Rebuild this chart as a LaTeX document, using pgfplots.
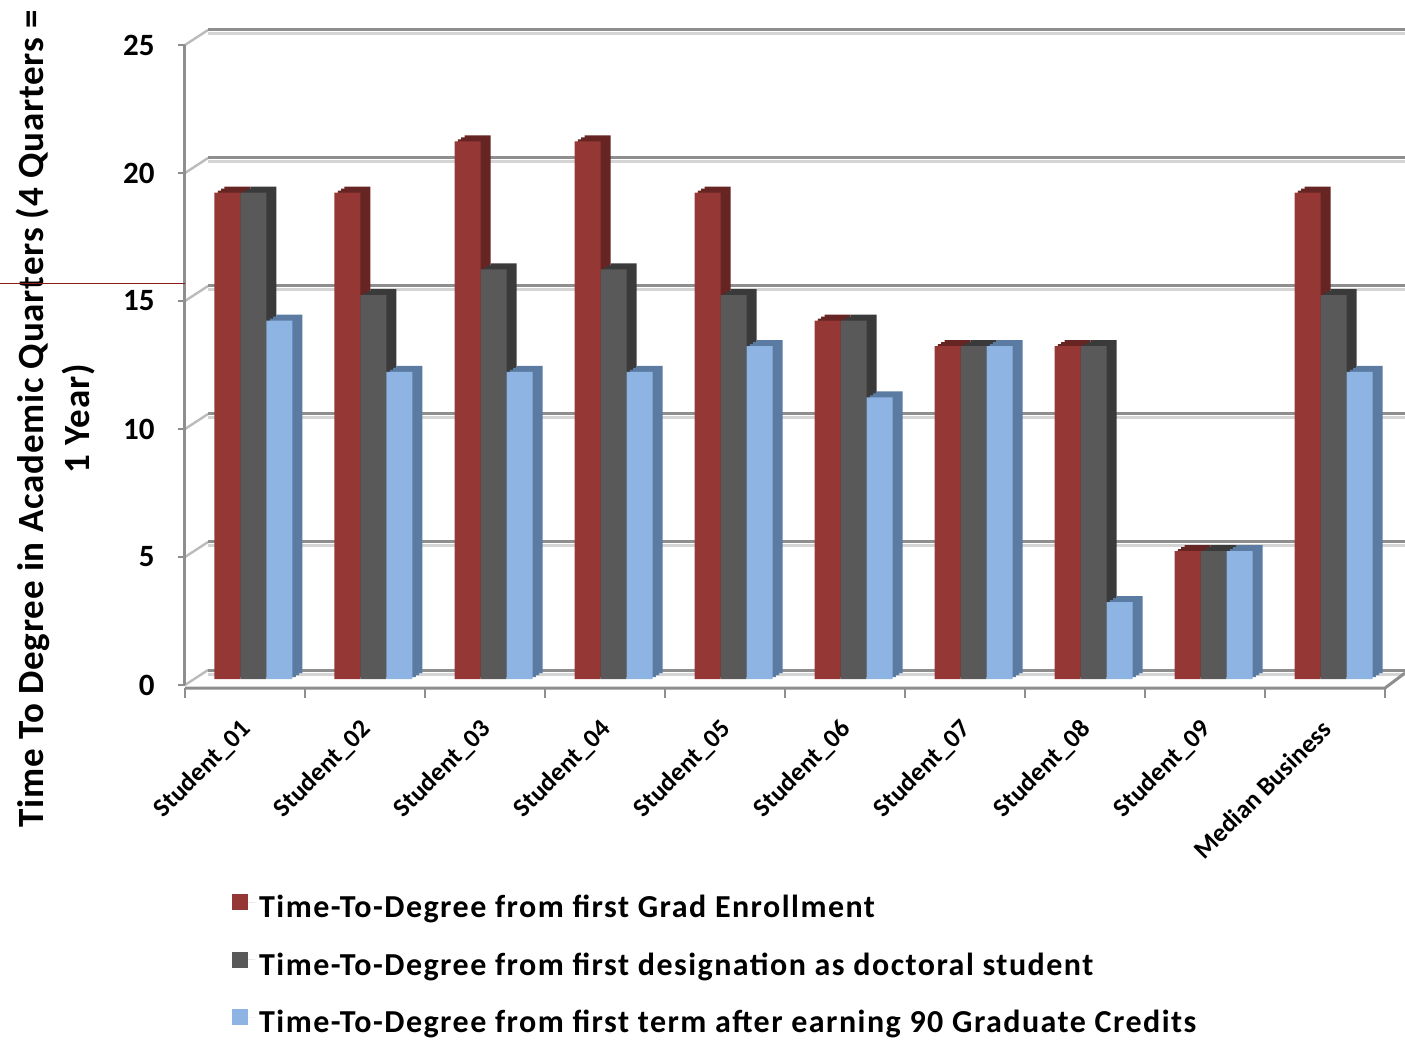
\documentclass[border=0pt]{standalone}
\usepackage{fontspec}
\setmainfont{Carlito}
\newfontfamily\legendfont[LetterSpace=4.6]{Carlito}
\newfontfamily\labelfont[LetterSpace=2.2]{Carlito}
\usepackage{pgfplots}
\pgfplotsset{compat=1.18}
\usepackage{pgfplotstable}

\definecolor{redF}{HTML}{953735}
\definecolor{redS}{HTML}{662523}
\definecolor{greyF}{HTML}{595959}
\definecolor{greyS}{HTML}{3A3A3A}
\definecolor{blueF}{HTML}{8EB4E3}
\definecolor{blueS}{HTML}{5C7BA3}
\definecolor{gridc}{HTML}{8E8E8E}
\definecolor{gridsh}{HTML}{D4D4D4}
\definecolor{edge}{HTML}{8B1A1A}

% time to degree, in academic quarters
\pgfplotstableread{
x a b c
0 19 19 14
1 19 15 12
2 21 16 12
3 21 16 12
4 19 15 13
5 14 14 11
6 13 13 13
7 13 13 3
8 5 5 5
9 19 15 12
}\ttd

\begin{document}
\begin{tikzpicture}
% back wall and floor of the 3-D box
\foreach \v in {0,5,...,25} {
  \draw[gridsh, line width=1.5pt] (11.5pt,{\v*12.8pt+5.5pt}) -- (610pt,{\v*12.8pt+5.5pt});
  \draw[gridc!60, line width=1.2pt] (0pt,{\v*12.8pt}) -- (11.5pt,{\v*12.8pt+7.5pt});
  \draw[gridc, line width=1.5pt] (11.5pt,{\v*12.8pt+7.5pt}) -- (610pt,{\v*12.8pt+7.5pt});
  \draw[gridc, line width=1pt] (-3.5pt,{\v*12.8pt}) -- (0pt,{\v*12.8pt});
}
\draw[gridc, line width=1.5pt] (0pt,0pt) -- (0pt,320pt);
\draw[gridc, line width=1.5pt] (0pt,-1.5pt) -- (600pt,-1.5pt) -- (610pt,6pt);
\foreach \i in {0,...,10} {
  \draw[gridc, line width=1pt] ({\i*60pt},-1.5pt) -- ({\i*60pt},-6.5pt);
}

\begin{axis}[
  scale only axis, width=600pt, height=320pt,
  xmin=-0.5, xmax=9.5, ymin=0, ymax=25,
  axis line style={draw=none},
  major tick length=0pt,
  clip=false,
  ytick={0,5,...,25},
  xtick={0,...,9},
  xticklabels={Student\_01,Student\_02,Student\_03,Student\_04,Student\_05,
    Student\_06,Student\_07,Student\_08,Student\_09,Median Business},
  /pgf/number format/assume math mode=true,
  yticklabel style={font=\bfseries\fontsize{15.5}{18}\selectfont, anchor=east, inner sep=0pt, xshift=-15pt},
  xticklabel style={font=\bfseries\fontsize{13}{15}\selectfont, inner sep=0pt,
    xshift=1pt, yshift=-20pt, rotate=45, anchor=east},
  ylabel={Time To Degree in Academic Quarters (4 Quarters =\\1 Year)},
  ylabel style={align=center,
    font=\labelfont\bfseries\fontsize{18.5}{23}\selectfont,
    at={(axis description cs:-0.108,0.416)}, anchor=center},
  legend style={at={(axis description cs:0.039,-0.322)}, anchor=north west,
    draw=none, fill=none,
    font=\legendfont\bfseries\fontsize{16}{19}\selectfont,
    row sep=12pt, inner sep=0pt, cells={anchor=west}},
  legend image code/.code={\path[#1, draw=none] (0pt,-4pt) rectangle (8pt,4pt);
    \path (0pt,0pt) -- (11.5pt,0pt);},
]
% depth faces of the bars, drawn first so the front faces cover them
\addplot[ybar, bar width=13pt, bar shift=-7.1pt, fill=redS, draw=none, yshift=4pt, forget plot] table[x=x,y=a] {\ttd};
\addplot[ybar, bar width=13pt, bar shift=-5.4pt, fill=redS, draw=none, yshift=5pt, forget plot] table[x=x,y=a] {\ttd};
\addplot[ybar, bar width=13pt, bar shift=-3.75pt, fill=redS, draw=none, yshift=6pt, forget plot] table[x=x,y=a] {\ttd};
\addplot[ybar, bar width=13pt, bar shift=5.9pt, fill=greyS, draw=none, yshift=4pt, forget plot] table[x=x,y=b] {\ttd};
\addplot[ybar, bar width=13pt, bar shift=7.6pt, fill=greyS, draw=none, yshift=5pt, forget plot] table[x=x,y=b] {\ttd};
\addplot[ybar, bar width=13pt, bar shift=9.25pt, fill=greyS, draw=none, yshift=6pt, forget plot] table[x=x,y=b] {\ttd};
\addplot[ybar, bar width=13pt, bar shift=18.9pt, fill=blueS, draw=none, yshift=4pt, forget plot] table[x=x,y=c] {\ttd};
\addplot[ybar, bar width=13pt, bar shift=20.6pt, fill=blueS, draw=none, yshift=5pt, forget plot] table[x=x,y=c] {\ttd};
\addplot[ybar, bar width=13pt, bar shift=22.25pt, fill=blueS, draw=none, yshift=6pt, forget plot] table[x=x,y=c] {\ttd};
% front faces
\addplot[ybar, bar width=13pt, bar shift=-8.75pt, fill=redF, draw=none, yshift=3pt] table[x=x,y=a] {\ttd};
\addplot[ybar, bar width=13pt, bar shift=4.25pt, fill=greyF, draw=none, yshift=3pt] table[x=x,y=b] {\ttd};
\addplot[ybar, bar width=13pt, bar shift=17.25pt, fill=blueF, draw=none, yshift=3pt] table[x=x,y=c] {\ttd};
\legend{Time-To-Degree from first Grad Enrollment,
  Time-To-Degree from first designation as doctoral student,
  Time-To-Degree from first term after earning 90 Graduate Credits}
\end{axis}
\draw[edge, line width=0.5pt] (-92.5pt,200.5pt) -- (0pt,200.5pt);
\pgfresetboundingbox
\path[use as bounding box] (-92.5pt,-177.5pt) rectangle (610pt,342.5pt);
\end{tikzpicture}
\end{document}
